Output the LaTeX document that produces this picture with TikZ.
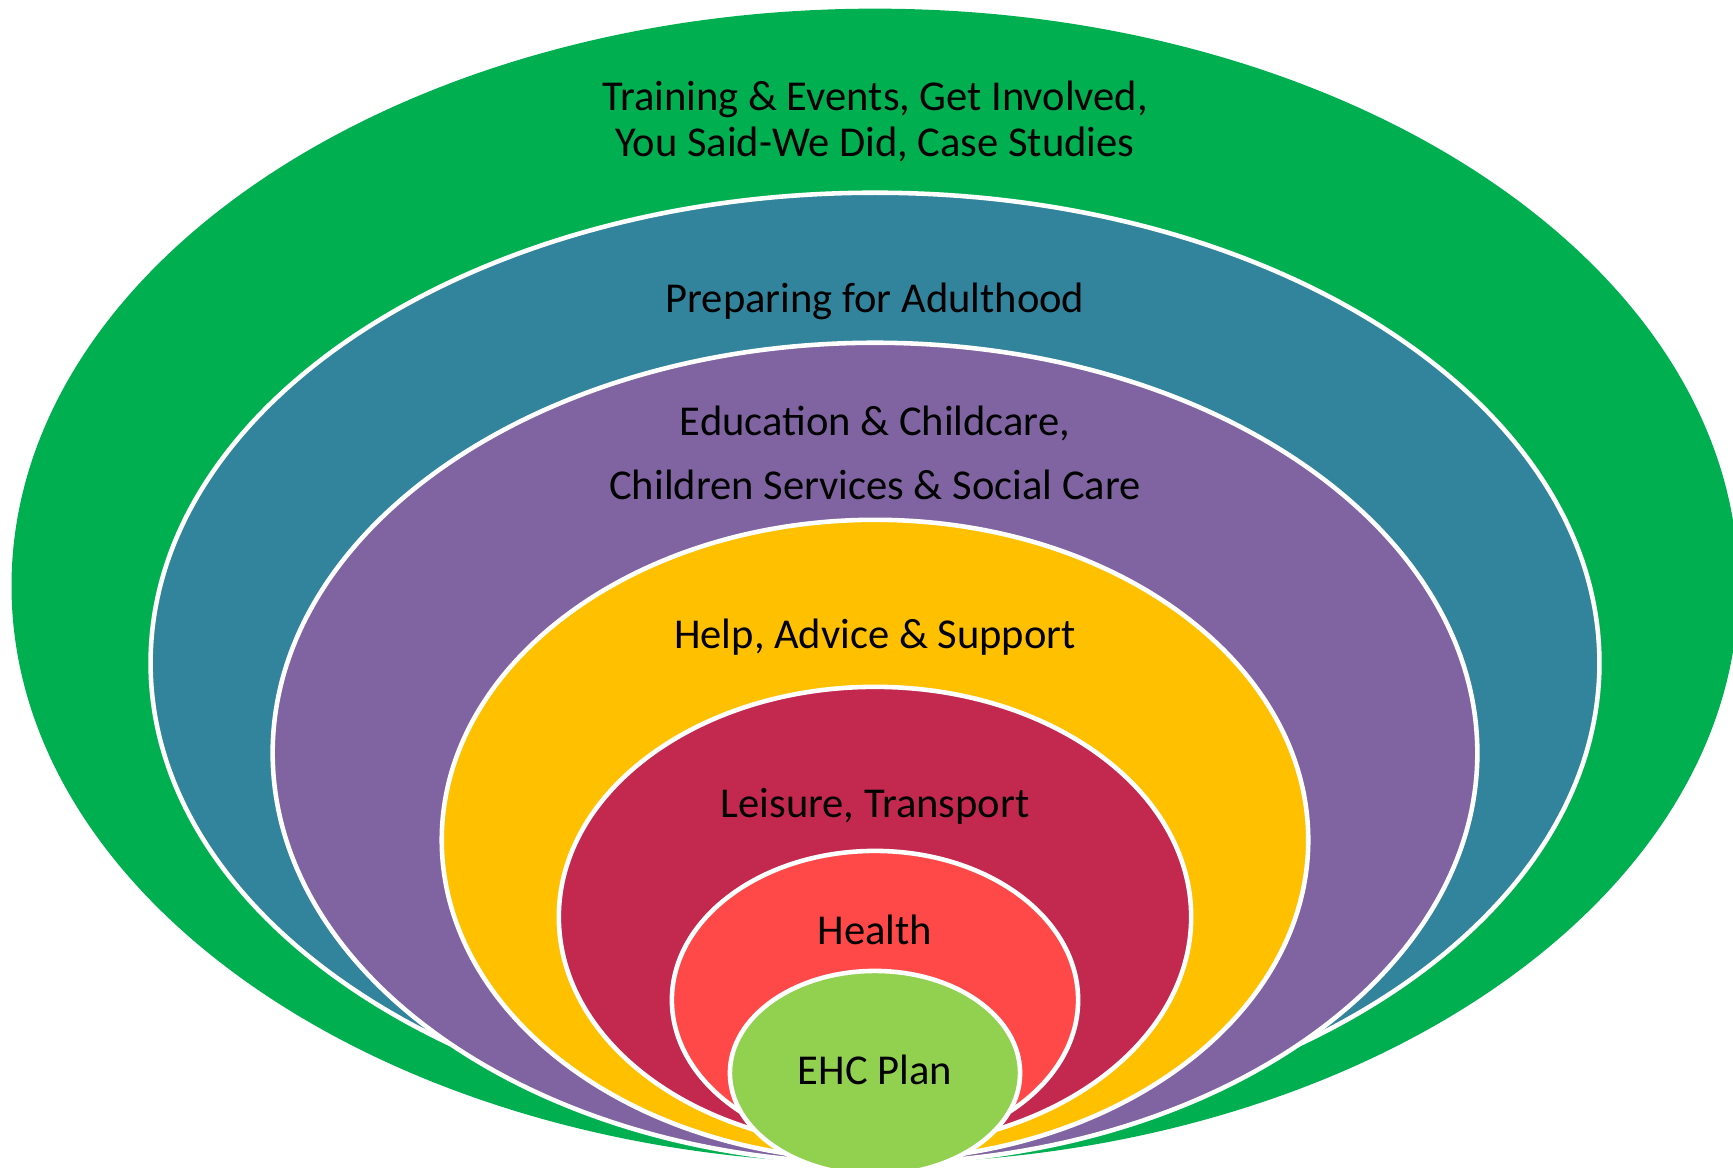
\documentclass[tikz,border=0pt]{standalone}
\usepackage{fontspec}
\setmainfont{Carlito}
\usetikzlibrary{shapes.geometric}
\definecolor{outergreen}{HTML}{00B050}
\definecolor{adultteal}{HTML}{31849B}
\definecolor{edupurple}{HTML}{8064A2}
\definecolor{helpyellow}{HTML}{FFC000}
\definecolor{leisurered}{HTML}{C3294F}
\definecolor{healthred}{HTML}{FF4949}
\definecolor{planlime}{HTML}{92D050}
\newcommand{\trainingtext}{Training \& Events, Get Involved,\\ You Said-We Did, Case Studies}
\newcommand{\educationtext}{Education \& Childcare,\\[5pt] Children Services \& Social Care}

\begin{document}
\begin{tikzpicture}[x=0.01cm, y=-0.01cm,
  ring/.style={ellipse, draw=white, line width=1.3pt, inner sep=0pt},
  ringtext/.style={anchor=base, align=center, font=\fontsize{12.1}{13.3}\selectfont, text=black}]
  %Frame of the picture
  \useasboundingbox (0,0) rectangle (1733,1168);
  \clip (0,0) rectangle (1733,1168);

  %Nested ellipses, outermost first
  \draw (875,586) node[ring, draw=none, fill=outergreen, minimum width=17.26cm, minimum height=11.54cm] (training) {};
  \draw (875,663) node[ring, fill=adultteal, minimum width=14.48cm, minimum height=9.40cm] (adulthood) {};
  \draw (875,753) node[ring, fill=edupurple, minimum width=12.04cm, minimum height=8.20cm] (education) {};
  \draw (875,840) node[ring, fill=helpyellow, minimum width=8.66cm, minimum height=6.40cm] (help) {};
  \draw (875,917) node[ring, fill=leisurered, minimum width=6.32cm, minimum height=4.60cm] (leisure) {};
  \draw (875,1000) node[ring, fill=healthred, minimum width=4.06cm, minimum height=2.98cm] (health) {};
  \draw (875,1073) node[ring, fill=planlime, minimum width=2.90cm, minimum height=2.04cm] (plan) {};

  %Labels near the top of each ellipse (base = last line)
  \draw (875,157) node[ringtext] (traininglabel) {\trainingtext};
  \draw (875,313) node[ringtext] (adulthoodlabel) {Preparing for Adulthood};
  \draw (875,500) node[ringtext] (educationlabel) {\educationtext};
  \draw (875,649) node[ringtext] (helplabel) {Help, Advice \& Support};
  \draw (875,818) node[ringtext] (leisurelabel) {Leisure, Transport};
  \draw (875,945) node[ringtext] (healthlabel) {Health};
  \draw (875,1085) node[ringtext] (planlabel) {EHC Plan};
\end{tikzpicture}
\end{document}
